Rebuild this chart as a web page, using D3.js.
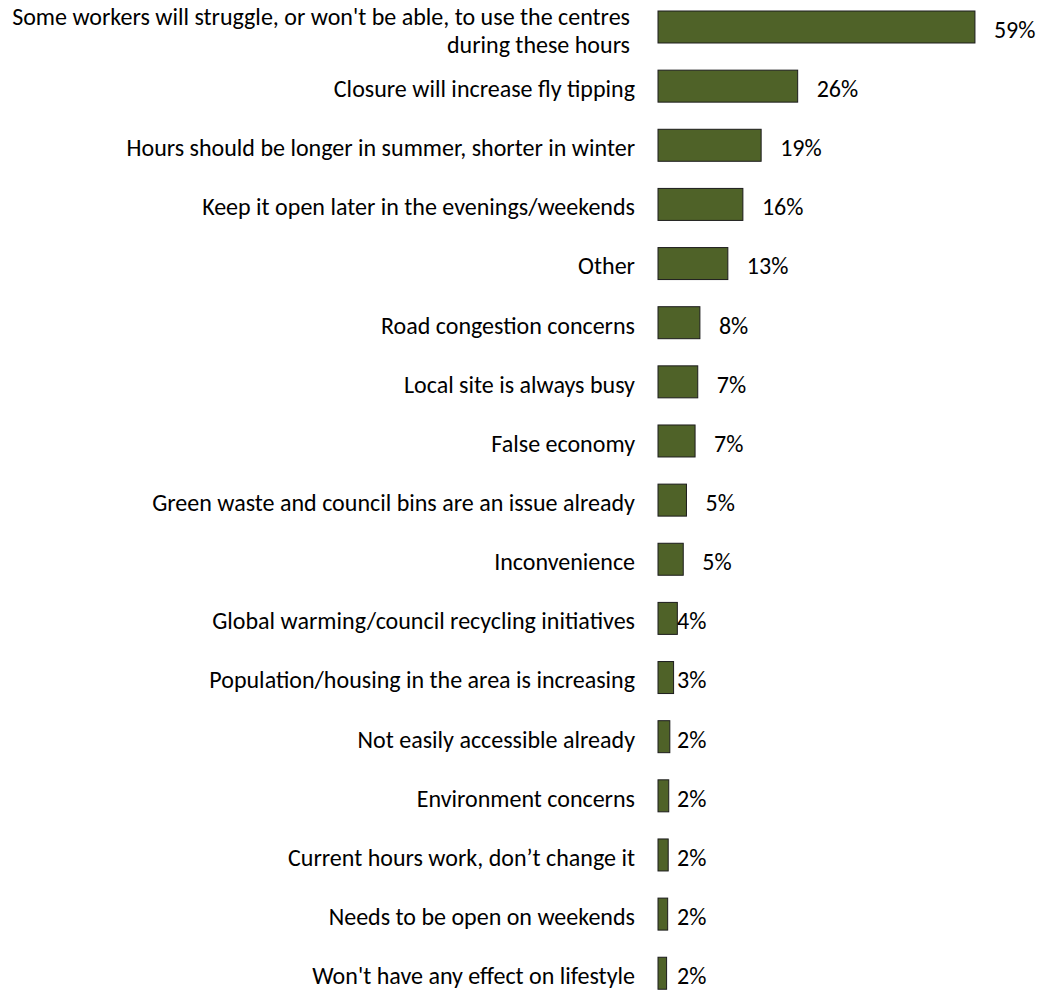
<!DOCTYPE html>
<html>
<head>
<meta charset="utf-8">
<script src="https://cdn.jsdelivr.net/npm/d3@7"></script>
<style>
  html, body { margin: 0; padding: 0; background: #ffffff; }
  svg { display: block; }
  text { font-family: Carlito, Calibri, "Open Sans", "Noto Sans", sans-serif; fill: #000; }
</style>
</head>
<body>
<svg id="chart" width="1039" height="990"></svg>
<script>
// ---- data ----
const categories = [
  "Some workers will struggle, or won't be able, to use the centres\nduring these hours",
  "Closure will increase fly tipping",
  "Hours should be longer in summer, shorter in winter",
  "Keep it open later in the evenings/weekends",
  "Other",
  "Road congestion concerns",
  "Local site is always busy",
  "False economy",
  "Green waste and council bins are an issue already",
  "Inconvenience",
  "Global warming/council recycling initiatives",
  "Population/housing in the area is increasing",
  "Not easily accessible already",
  "Environment concerns",
  "Current hours work, don\u2019t change it",
  "Needs to be open on weekends",
  "Won't have any effect on lifestyle"
];
const values = [59.0, 26.0, 19.2, 15.8, 13.0, 7.8, 7.4, 6.9, 5.3, 4.7, 3.6, 2.9, 2.2, 2.0, 1.9, 1.8, 1.6];

// ---- layout ----
const svg = d3.select("#chart");
const x0 = 658;
const pxPerPct = 5.372;
const x = d3.scaleLinear().domain([0, 100]).range([x0, x0 + 100 * pxPerPct]);
const rowStep = 59.14;
const yTop = 27 - rowStep / 2;
const y = d3.scaleBand()
  .domain(categories)
  .range([yTop, yTop + categories.length * rowStep])
  .paddingInner(0.459)
  .paddingOuter(0.2295);

// fit font size so the longest line spans like the reference
const probe = svg.append("text").attr("font-size", 100)
  .text("Some workers will struggle, or won't be able, to use the centres");
const w100 = probe.node().getComputedTextLength();
probe.remove();
const fs = 100 * 618 / w100;
const baseOff = fs * 0.33 + 3;

const g = svg.append("g");

g.selectAll("rect.bar")
  .data(values)
  .join("rect")
  .attr("class", "bar")
  .attr("x", x(0))
  .attr("y", (d, i) => y(categories[i]))
  .attr("width", d => x(d) - x(0))
  .attr("height", y.bandwidth())
  .attr("fill", "#4f6228")
  .attr("stroke", "#1c1c1c")
  .attr("stroke-width", 1);

const fmt = d3.format(".0f");
g.selectAll("text.val")
  .data(values)
  .join("text")
  .attr("class", "val")
  .attr("x", d => d >= 4.5 ? x(d) + 19 : x(0) + 19)
  .attr("y", (d, i) => y(categories[i]) + y.bandwidth() / 2 + baseOff)
  .attr("font-size", fs)
  .text(d => fmt(d) + "%");

const lineH = 28;
const labels = g.selectAll("text.cat")
  .data(categories)
  .join("text")
  .attr("class", "cat")
  .attr("text-anchor", "end")
  .attr("font-size", fs);
labels.each(function(c) {
  const lines = c.split("\n");
  const cy = y(c) + y.bandwidth() / 2 + baseOff;
  const t = d3.select(this);
  const ax = lines.length > 1 ? 630 : 635;
  lines.forEach((ln, k) => {
    t.append("tspan")
      .attr("x", ax)
      .attr("y", cy + (k - (lines.length - 1) / 2) * lineH + (lines.length > 1 ? 1 : 0))
      .text(ln);
  });
});
</script>
</body>
</html>
